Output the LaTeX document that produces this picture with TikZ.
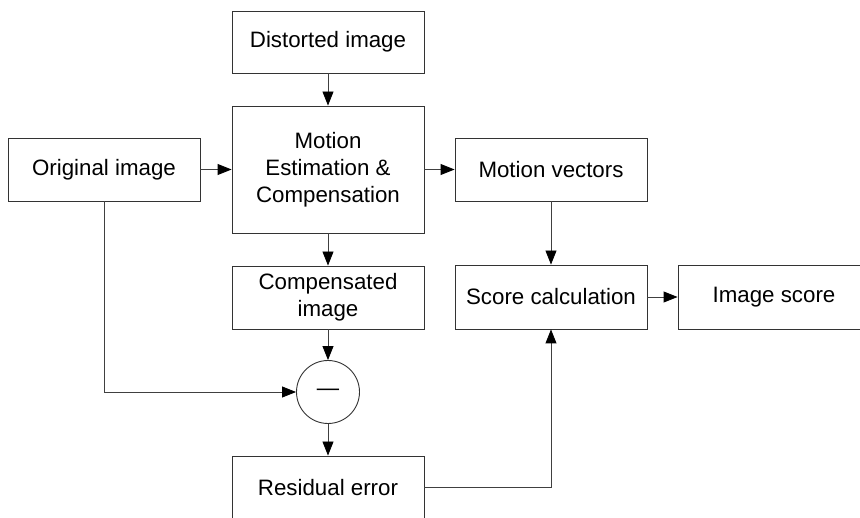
\documentclass[tikz,border=0pt]{standalone}
\usepackage{fontspec}
\setmainfont{Liberation Sans}
\usetikzlibrary{arrows.meta}
\begin{document}
\begin{tikzpicture}[x=1pt,y=-1pt,
  blk/.style={draw=black!80,line width=0.9pt,rectangle,minimum width=192pt,align=center,inner sep=0pt,
    font=\fontsize{22.3}{27}\selectfont},
  conn/.style={draw=black!75,line width=0.9pt,-{Triangle[length=14pt,width=11pt,color=black,fill=black]}},
  plain/.style={draw=black!75,line width=0.9pt}]
\useasboundingbox (0,0) rectangle (860,518);
\clip (0,0) rectangle (860,518);
\node[blk,minimum height=62pt] (dist) at (328,42) {Distorted image};
\node[blk,minimum height=127pt] (motion) at (328,169.5) {Motion\\Estimation \&\\Compensation};
\node[blk,minimum height=63pt] (orig) at (104,169.5) {Original image};
\node[blk,minimum height=63pt] (mv) at (551,169.5) {Motion vectors};
\node[blk,minimum height=63pt] (comp) at (328,297.5) {Compensated\\image};
\node[blk,minimum height=64pt] (score) at (551,297) {Score calculation};
\node[blk,minimum height=64pt] (imgs) at (774,297) {Image score};
\node[draw=black!80,line width=0.9pt,circle,minimum size=63pt,inner sep=0pt,
  font=\fontsize{22.3}{26}\selectfont] (minus) at (328,392) {---};
\node[blk,minimum height=63pt] (resid) at (328,487.5) {Residual error};
\coordinate (c1) at (orig.south |- minus.west);
\coordinate (c2) at (score.south |- resid.east);
\draw[conn] (dist) -- (motion);
\draw[conn] (orig) -- (motion);
\draw[conn] (motion) -- (mv);
\draw[conn] (motion) -- (comp);
\draw[conn] (mv) -- (score);
\draw[conn] (score) -- (imgs);
\draw[conn] (comp) -- (minus);
\draw[conn] (orig.south) -- (c1) -- (minus.west);
\draw[conn] (minus) -- (resid);
\draw[conn] (resid.east) -- (c2) -- (score.south);
\end{tikzpicture}
\end{document}
